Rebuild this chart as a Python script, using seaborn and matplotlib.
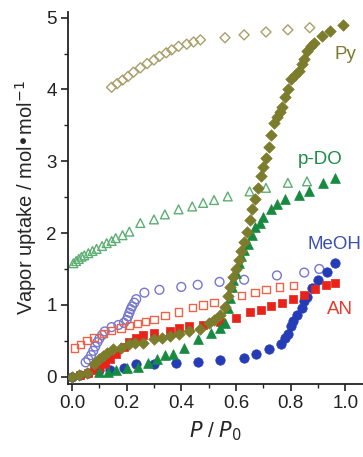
import numpy as np
import pandas as pd
import matplotlib
matplotlib.use("Agg")
import matplotlib.pyplot as plt
from matplotlib.ticker import MultipleLocator
import seaborn as sns

sns.set_style("ticks")
plt.rcParams['font.family'] = ['Liberation Sans', 'DejaVu Sans']

# Py (pyridine) adsorption / desorption
py_ads_x = [0.00, 0.025, 0.055, 0.08, 0.10, 0.115, 0.127, 0.15, 0.18, 0.21, 0.23, 0.26, 0.30,
            0.33, 0.36, 0.39, 0.43, 0.47, 0.50, 0.52, 0.54, 0.56, 0.57, 0.58, 0.59, 0.60,
            0.61, 0.62, 0.63, 0.64, 0.65, 0.66, 0.67, 0.68, 0.69, 0.70, 0.71, 0.72, 0.73,
            0.74, 0.75, 0.76, 0.77, 0.78, 0.79, 0.80, 0.815, 0.83, 0.84, 0.85, 0.86, 0.875,
            0.885, 0.915, 0.945, 0.99]
py_ads_y = [0.00, 0.03, 0.05, 0.17, 0.24, 0.29, 0.33, 0.38, 0.40, 0.45, 0.47, 0.47, 0.52,
            0.54, 0.56, 0.60, 0.63, 0.67, 0.75, 0.79, 0.86, 0.97, 1.12, 1.25, 1.39, 1.50,
            1.63, 1.75, 1.87, 2.02, 2.18, 2.33, 2.48, 2.63, 2.79, 2.92, 3.05, 3.20, 3.36,
            3.53, 3.62, 3.69, 3.76, 3.90, 4.00, 4.14, 4.20, 4.25, 4.35, 4.42, 4.53, 4.60,
            4.65, 4.74, 4.81, 4.90]
py_des_x = [0.145, 0.165, 0.185, 0.205, 0.225, 0.25, 0.275, 0.30, 0.32, 0.345, 0.365, 0.39,
            0.42, 0.445, 0.47, 0.56, 0.63, 0.71, 0.79, 0.87]
py_des_y = [4.03, 4.08, 4.13, 4.18, 4.24, 4.30, 4.36, 4.41, 4.46, 4.51, 4.55, 4.60,
            4.63, 4.66, 4.69, 4.72, 4.76, 4.80, 4.83, 4.86]

# p-DO (p-dioxane)
pdo_ads_x = [0.10, 0.13, 0.16, 0.20, 0.24, 0.28, 0.31, 0.34, 0.37, 0.41, 0.46, 0.51, 0.54,
             0.56, 0.57, 0.58, 0.585, 0.59, 0.60, 0.61, 0.62, 0.63, 0.645, 0.66, 0.67, 0.687,
             0.70, 0.73, 0.75, 0.78, 0.83, 0.866, 0.917, 0.964]
pdo_ads_y = [0.07, 0.07, 0.10, 0.12, 0.14, 0.19, 0.24, 0.30, 0.31, 0.40, 0.52, 0.61, 0.68,
             0.75, 0.95, 1.10, 1.25, 1.35, 1.45, 1.58, 1.68, 1.77, 1.85, 1.97, 2.09, 2.14,
             2.23, 2.33, 2.40, 2.47, 2.53, 2.58, 2.70, 2.76]
pdo_des_x = [0.005, 0.015, 0.025, 0.035, 0.045, 0.06, 0.075, 0.09, 0.11, 0.127, 0.145, 0.16,
             0.185, 0.21, 0.25, 0.30, 0.34, 0.39, 0.44, 0.48, 0.52, 0.57, 0.65, 0.71, 0.79,
             0.86]
pdo_des_y = [1.58, 1.61, 1.64, 1.67, 1.69, 1.72, 1.75, 1.78, 1.82, 1.86, 1.89, 1.93,
             1.97, 2.02, 2.14, 2.19, 2.26, 2.33, 2.37, 2.42, 2.46, 2.51, 2.58, 2.63, 2.70,
             2.72]

# MeOH
meoh_ads_x = [0.00, 0.03, 0.06, 0.10, 0.14, 0.19, 0.235, 0.30, 0.38, 0.46, 0.54, 0.63, 0.675,
              0.72, 0.765, 0.78, 0.79, 0.80, 0.81, 0.825, 0.84, 0.85, 0.86, 0.88, 0.90,
              0.935, 0.964]
meoh_ads_y = [0.00, 0.02, 0.05, 0.10, 0.10, 0.12, 0.17, 0.17, 0.19, 0.21, 0.23, 0.26, 0.32,
              0.39, 0.46, 0.54, 0.60, 0.70, 0.78, 0.86, 0.96, 1.05, 1.11, 1.24, 1.35,
              1.46, 1.59]
meoh_des_x = [0.05, 0.06, 0.07, 0.078, 0.085, 0.093, 0.10, 0.11, 0.12, 0.145, 0.17, 0.19,
              0.20, 0.205, 0.21, 0.215, 0.22, 0.228, 0.235, 0.265, 0.32, 0.40, 0.46, 0.54,
              0.63, 0.75, 0.85, 0.905]
meoh_des_y = [0.20, 0.24, 0.30, 0.36, 0.42, 0.48, 0.53, 0.58, 0.63, 0.69, 0.72, 0.75,
              0.79, 0.84, 0.89, 0.94, 0.98, 1.03, 1.08, 1.17, 1.21, 1.25, 1.28, 1.32,
              1.35, 1.41, 1.45, 1.50]

# AN (acetonitrile)
an_ads_x = [0.03, 0.06, 0.08, 0.10, 0.12, 0.14, 0.16, 0.19, 0.21, 0.235, 0.26, 0.30, 0.36,
            0.39, 0.43, 0.48, 0.54, 0.60, 0.65, 0.69, 0.73, 0.77, 0.81, 0.85, 0.89, 0.93,
            0.964]
an_ads_y = [0.02, 0.05, 0.09, 0.12, 0.18, 0.24, 0.31, 0.42, 0.48, 0.54, 0.58, 0.61, 0.63,
            0.68, 0.70, 0.72, 0.76, 0.82, 0.90, 0.93, 0.98, 1.03, 1.08, 1.14, 1.22, 1.27,
            1.31]
an_des_x = [0.01, 0.03, 0.055, 0.08, 0.115, 0.145, 0.18, 0.21, 0.24, 0.27, 0.30, 0.34, 0.39,
            0.44, 0.48, 0.52, 0.62, 0.67, 0.71, 0.76, 0.81]
an_des_y = [0.40, 0.45, 0.50, 0.55, 0.60, 0.64, 0.68, 0.71, 0.74, 0.77, 0.80, 0.85, 0.90,
            0.96, 1.00, 1.03, 1.13, 1.17, 1.21, 1.25, 1.27]

series = [
    # x, y, marker, colour, open?, size
    (py_des_x, py_des_y, "D", "#aa9e6a", True, 26),
    (pdo_des_x, pdo_des_y, "^", "#5cae72", True, 40),
    (meoh_des_x, meoh_des_y, "o", "#7676cc", True, 40),
    (an_des_x, an_des_y, "s", "#ec6448", True, 28),
    (meoh_ads_x, meoh_ads_y, "o", "#263cb6", False, 46),
    (an_ads_x, an_ads_y, "s", "#e8231a", False, 32),
    (pdo_ads_x, pdo_ads_y, "^", "#168a3e", False, 50),
    (py_ads_x, py_ads_y, "D", "#7b7c2c", False, 34),
]

fig = plt.figure(figsize=(3.63, 4.57), dpi=100)
ax = fig.add_axes([0.187, 0.160, 0.813, 0.814])

for x, y, m, c, hollow, s in series:
    if hollow:
        sns.scatterplot(x=x, y=y, marker=m, color=c, facecolor="none", edgecolor=c,
                        linewidth=1.0, s=s, ax=ax, zorder=2)
    else:
        sns.scatterplot(x=x, y=y, marker=m, color=c, edgecolor=c, linewidth=0.5,
                        s=s, ax=ax, zorder=3)

ax.set_xlim(-0.015, 1.065)
ax.set_ylim(-0.1, 5.08)
ax.xaxis.set_major_locator(MultipleLocator(0.2))
ax.xaxis.set_minor_locator(MultipleLocator(0.1))
ax.yaxis.set_major_locator(MultipleLocator(1))
ax.yaxis.set_minor_locator(MultipleLocator(0.5))
ax.set_xticks([0, 0.2, 0.4, 0.6, 0.8, 1.0])
ax.set_xticklabels(["0.0", "0.2", "0.4", "0.6", "0.8", "1.0"])
ax.tick_params(which="major", direction="out", length=5, width=1.2, labelsize=13.5,
               colors="#222222", pad=3)
ax.tick_params(which="minor", direction="out", length=3, width=1.0, colors="#222222")
sns.despine(ax=ax, top=True, right=True)
for sp in ["left", "bottom"]:
    ax.spines[sp].set_linewidth(1.3)
    ax.spines[sp].set_color("#222222")

ax.set_xlabel("$P$ / $P_0$", fontsize=15, labelpad=5)
ax.set_ylabel("Vapor uptake / mol\u2022mol$^{-1}$", fontsize=14.5, labelpad=5)

ax.text(1.0, 4.48, "Py", color="#7d7a30", fontsize=13.5, ha="center", va="center")
ax.text(0.91, 3.02, "p-DO", color="#1e8a4a", fontsize=13.5, ha="center", va="center")
ax.text(1.058, 1.84, "MeOH", color="#3a4fb0", fontsize=13.5, ha="right", va="center")
ax.text(0.98, 0.93, "AN", color="#e83a2a", fontsize=13.5, ha="center", va="center")

fig.savefig("out.png", dpi=100)
